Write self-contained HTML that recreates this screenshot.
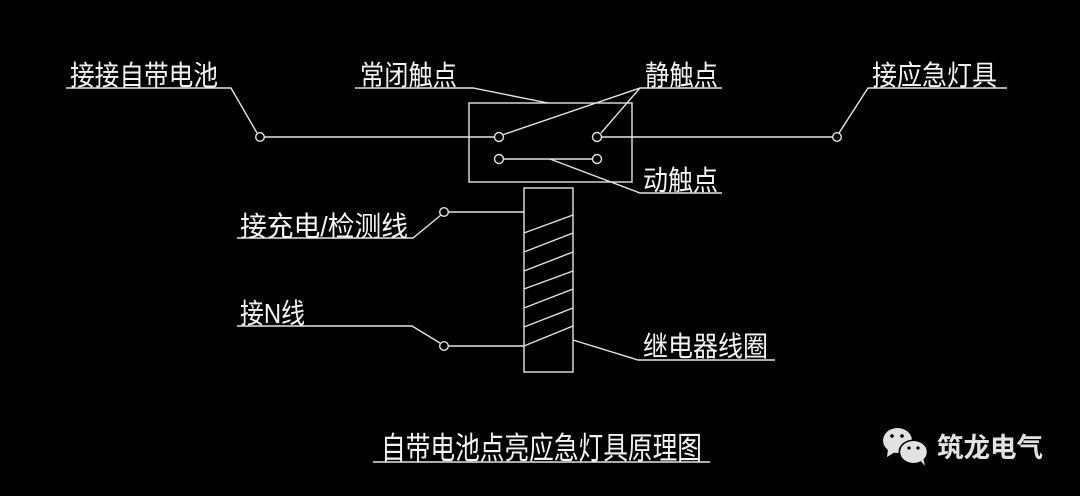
<!DOCTYPE html>
<html>
<head>
<meta charset="utf-8">
<style>
html,body{margin:0;padding:0;background:#000;}
svg{display:block;}
text{font-family:"Liberation Sans","Noto Sans CJK SC",sans-serif;fill:#f4f4f4;}
</style>
</head>
<body>
<svg width="1080" height="496" viewBox="0 0 1080 496" xmlns="http://www.w3.org/2000/svg">
<rect width="1080" height="496" fill="#000"/>
<g stroke="#e4e4e4" stroke-width="1.4" fill="none">
  <!-- Battery label leader -->
  <polyline points="66,88 231,88 257,133"/>
  <circle cx="260" cy="137" r="4.3"/>
  <line x1="264.3" y1="137" x2="494.5" y2="137"/>
  <!-- contact box -->
  <rect x="469" y="103" width="163" height="79"/>
  <circle cx="499" cy="137" r="4.5"/>
  <circle cx="597" cy="137" r="4.5"/>
  <circle cx="499" cy="159" r="4.5"/>
  <circle cx="597" cy="159" r="4.5"/>
  <line x1="503.5" y1="159" x2="592.5" y2="159"/>
  <line x1="601.5" y1="137" x2="832.7" y2="137"/>
  <circle cx="837" cy="137" r="4.3"/>
  <polyline points="839,133 868,88 1007,88"/>
  <!-- 常闭触点 -->
  <polyline points="355,88 473,88 548,103"/>
  <!-- 静触点 -->
  <polyline points="722,88 640,88 503.5,134.5"/>
  <line x1="640" y1="88" x2="601" y2="133"/>
  <!-- 动触点 -->
  <polyline points="550,159 640,193 722,193"/>
  <!-- coil -->
  <rect x="524" y="188" width="49" height="184"/>
  <line x1="524" y1="233" x2="573" y2="215"/>
  <line x1="524" y1="252" x2="573" y2="233"/>
  <line x1="524" y1="271" x2="573" y2="252"/>
  <line x1="524" y1="289" x2="573" y2="271"/>
  <line x1="524" y1="308" x2="573" y2="289"/>
  <line x1="524" y1="327" x2="573" y2="308"/>
  <line x1="524" y1="346" x2="573" y2="326"/>
  <!-- charge line -->
  <line x1="448.3" y1="212" x2="524" y2="212"/>
  <circle cx="444" cy="212" r="4.3"/>
  <polyline points="237,238 413,238 441,215"/>
  <!-- N line -->
  <polyline points="237,326 412,326 440,343"/>
  <circle cx="444" cy="346" r="4.3"/>
  <line x1="448.3" y1="346" x2="524" y2="346"/>
  <!-- relay coil label -->
  <polyline points="573,340 638,360 775,360"/>
  <!-- title underline -->
  <line x1="373" y1="462" x2="710" y2="462"/>
</g>
<g font-size="28">
  <text x="70" y="85" textLength="148" lengthAdjust="spacingAndGlyphs">接接自带电池</text>
  <text x="360" y="85" textLength="97" lengthAdjust="spacingAndGlyphs">常闭触点</text>
  <text x="645" y="85" textLength="73" lengthAdjust="spacingAndGlyphs">静触点</text>
  <text x="872" y="85" textLength="125" lengthAdjust="spacingAndGlyphs">接应急灯具</text>
  <text x="643" y="190" textLength="75" lengthAdjust="spacingAndGlyphs">动触点</text>
  <text x="240" y="236" textLength="168" lengthAdjust="spacingAndGlyphs">接充电/检测线</text>
  <text x="240" y="323" textLength="65" lengthAdjust="spacingAndGlyphs">接N线</text>
  <text x="643" y="356" textLength="125" lengthAdjust="spacingAndGlyphs">继电器线圈</text>
</g>
<text x="381" y="459" font-size="31" textLength="321" lengthAdjust="spacingAndGlyphs">自带电池点亮应急灯具原理图</text>
<!-- logo -->
<g>
  <ellipse cx="897.5" cy="440.5" rx="14.5" ry="12.5" fill="#e2e2e2"/>
  <polygon points="888,449 887,457 895,452" fill="#e2e2e2"/>
  <circle cx="892" cy="436" r="1.8" fill="#000"/>
  <circle cx="902" cy="436" r="1.8" fill="#000"/>
  <ellipse cx="913.5" cy="452" rx="15" ry="12.5" fill="#000"/>
  <ellipse cx="913.5" cy="452" rx="13.3" ry="11" fill="#e2e2e2"/>
  <polygon points="920,460 925,466 923,457" fill="#e2e2e2"/>
  <circle cx="909" cy="448" r="1.6" fill="#000"/>
  <circle cx="918" cy="448" r="1.6" fill="#000"/>
</g>
<text x="937" y="457" font-size="27" font-weight="bold" textLength="106" lengthAdjust="spacingAndGlyphs" style="fill:#e2e2e2">筑龙电气</text>
</svg>
</body>
</html>
